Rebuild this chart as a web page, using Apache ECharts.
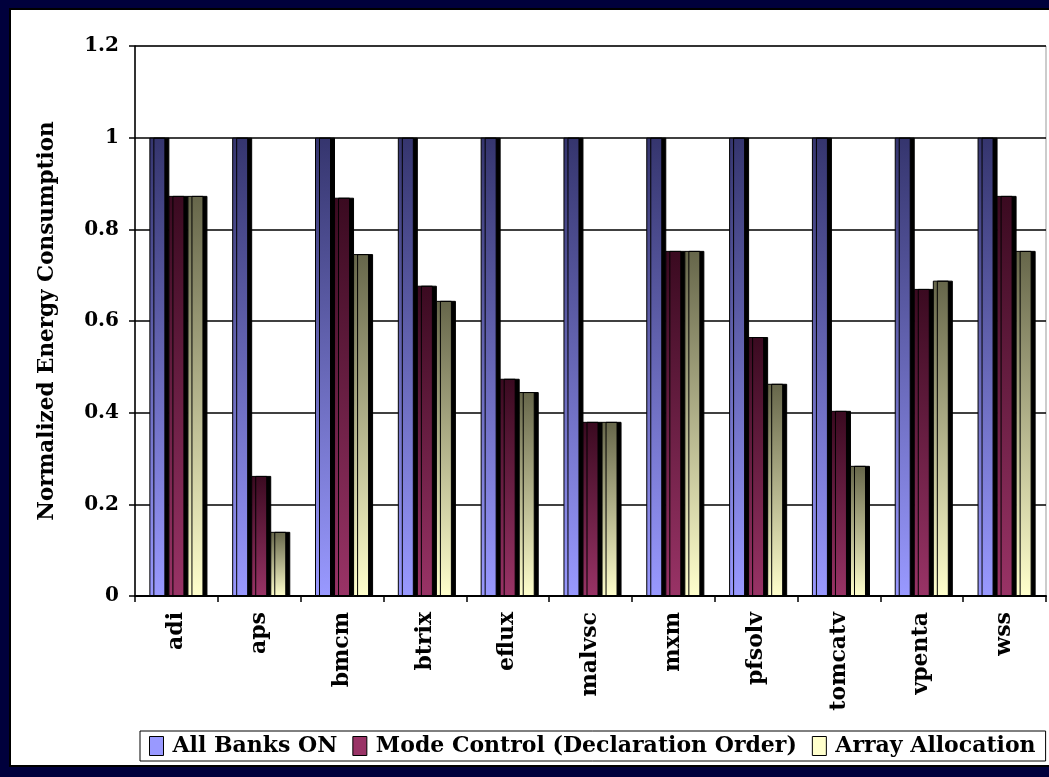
<!DOCTYPE html>
<html>
<head>
<meta charset="utf-8">
<script src="https://cdn.jsdelivr.net/npm/echarts@6/dist/echarts.min.js"></script>
<style>
  html, body { margin: 0; padding: 0; background: #00003c; }
  #chart { width: 1049px; height: 777px; }
</style>
</head>
<body>
<div id="chart"></div>
<script>
// Benchmarks and normalized energy for each bank-management scheme
const categories = ['adi', 'aps', 'bmcm', 'btrix', 'eflux', 'malvsc', 'mxm', 'pfsolv', 'tomcatv', 'vpenta', 'wss'];
const allBanksOn = [1, 1, 1, 1, 1, 1, 1, 1, 1, 1, 1];
const modeControl = [0.873, 0.262, 0.869, 0.677, 0.474, 0.38, 0.753, 0.565, 0.404, 0.67, 0.873];
const arrayAllocation = [0.873, 0.14, 0.746, 0.644, 0.445, 0.38, 0.753, 0.463, 0.284, 0.688, 0.753];
const yTicks = ['0', '0.2', '0.4', '0.6', '0.8', '1', '1.2'];

const FONT = 'DejaVu Serif';

// vertical fill: dark at the top, full colour at the base
function grad(top, bottom) {
  return new echarts.graphic.LinearGradient(0, 0, 0, 1, [
    { offset: 0, color: top },
    { offset: 1, color: bottom }
  ]);
}

function barSeries(name, data, top, bottom) {
  return {
    name: name,
    type: 'bar',
    data: data,
    barWidth: 16,
    barGap: '19%',
    itemStyle: {
      color: grad(top, bottom),
      borderColor: '#000',
      borderWidth: 1,
      shadowColor: '#000',
      shadowOffsetX: 4,
      shadowOffsetY: 0,
      shadowBlur: 0
    }
  };
}

const chart = echarts.init(document.getElementById('chart'), null, { renderer: 'canvas' });

chart.setOption({
  backgroundColor: '#00003c',
  animation: false,
  graphic: [
    {
      type: 'rect', z: -1,
      shape: { x: 10, y: 9, width: 1045, height: 757 },
      style: { fill: '#ffffff', stroke: '#000', lineWidth: 2 }
    }
  ],
  grid: {
    left: 135, right: 3, top: 46, bottom: 181,
    show: true, borderColor: '#999', borderWidth: 1, backgroundColor: 'transparent'
  },
  legend: {
    left: 140, top: 731,
    backgroundColor: '#fff',
    borderColor: '#000', borderWidth: 1,
    padding: [4, 10, 4, 9],
    itemWidth: 14, itemHeight: 19,
    itemGap: 15,
    icon: 'rect',
    itemStyle: { borderColor: '#000', borderWidth: 1 },
    textStyle: { fontFamily: FONT, fontWeight: 'bold', fontSize: 22, color: '#000', padding: [0, 0, 0, 4] },
    data: [
      { name: 'All Banks ON', itemStyle: { color: '#9999ff' } },
      { name: 'Mode Control (Declaration Order)', itemStyle: { color: '#993366' } },
      { name: 'Array Allocation', itemStyle: { color: '#ffffcc' } }
    ]
  },
  xAxis: {
    type: 'category',
    data: categories,
    axisLine: { lineStyle: { color: '#000', width: 2 } },
    axisTick: { show: true, length: 6, lineStyle: { color: '#000', width: 1.5 } },
    axisLabel: {
      rotate: 90, margin: 16, interval: 0,
      fontFamily: FONT, fontWeight: 'bold', fontSize: 22, color: '#000'
    }
  },
  yAxis: {
    type: 'value',
    min: 0, max: 1.2, interval: 0.2,
    name: 'Normalized Energy Consumption',
    nameLocation: 'middle',
    nameGap: 77,
    nameRotate: 90,
    nameTextStyle: { fontFamily: FONT, fontWeight: 'bold', fontSize: 21.5, color: '#000' },
    axisLine: { show: true, lineStyle: { color: '#000', width: 1.5 } },
    axisTick: { show: true, length: 6, lineStyle: { color: '#000', width: 1.5 } },
    axisLabel: {
      margin: 16,
      fontFamily: FONT, fontWeight: 'bold', fontSize: 20, color: '#000',
      formatter: function (v) { return yTicks[Math.round(v / 0.2)]; }
    },
    splitLine: { show: true, lineStyle: { color: '#000', width: 1.5 } }
  },
  series: [
    barSeries('All Banks ON', allBanksOn, '#35356e', '#9999ff'),
    barSeries('Mode Control (Declaration Order)', modeControl, '#3a0a20', '#993366'),
    barSeries('Array Allocation', arrayAllocation, '#66664a', '#ffffcc')
  ]
});
</script>
</body>
</html>
